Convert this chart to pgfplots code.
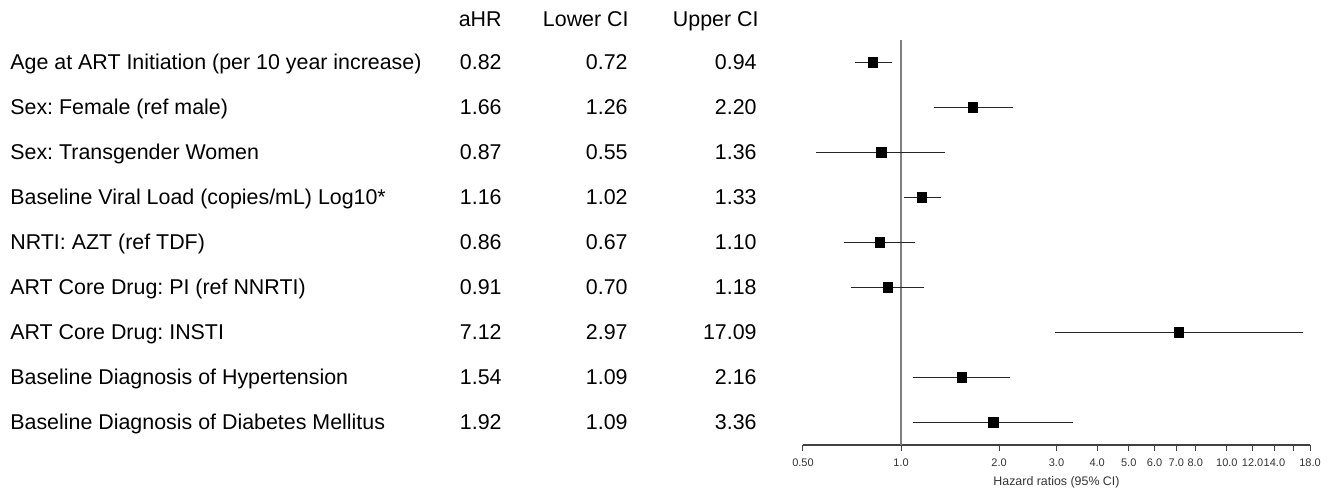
\documentclass[border=0pt]{standalone}
\usepackage{fontspec}
\setmainfont{Liberation Sans}
\usepackage{pgfplots}
\usepackage{pgfplotstable}
\pgfplotsset{compat=1.18}

\pgfplotstableread{
row hr lo hi
9 0.82 0.72 0.94
8 1.66 1.26 2.20
7 0.87 0.55 1.36
6 1.16 1.02 1.33
5 0.86 0.67 1.10
4 0.91 0.70 1.18
3 7.12 2.97 17.09
2 1.54 1.09 2.16
1 1.92 1.09 3.36
}\hrdata

\newcommand{\rowtext}[5]{%
  \node[anchor=mid west, inner sep=0pt] at ([xshift=-396.5pt,yshift=-0.8pt]axis cs:0.5,#1) {#2};
  \node[anchor=mid east, inner sep=0pt] at ([xshift=-150.5pt,yshift=-0.8pt]axis cs:0.5,#1) {#3};
  \node[anchor=mid east, inner sep=0pt] at ([xshift=-87.5pt,yshift=-0.8pt]axis cs:0.5,#1) {#4};
  \node[anchor=mid east, inner sep=0pt] at ([xshift=-23pt,yshift=-0.8pt]axis cs:0.5,#1) {#5};
}

\begin{document}
\frenchspacing
\begin{tikzpicture}
\fontsize{10.7}{12}\selectfont
\begin{axis}[
    scale only axis,
    width=253.5pt,
    height=202.5pt,
    xmode=log,
    xmin=0.5, xmax=18,
    ymin=0.5, ymax=9.5,
    axis x line*=bottom,
    axis y line=none,
    axis line style={black!75, line width=0.6pt},
    xtick={0.5,1,2,3,4,5,6,7,8,10,12,14,16,18},
    xticklabels={0.50,1.0,2.0,3.0,4.0,5.0,6.0,7.0,8.0,10.0,12.0,14.0,,18.0},
    tick style={black!75, line width=0.5pt},
    major tick length=3pt,
    xtick pos=bottom,
    tick align=outside,
    ticklabel style={font=\fontsize{5.5}{6}\selectfont, text=black!80},
    xlabel={Hazard ratios (95\% CI)},
    xlabel style={font=\fontsize{6.2}{7}\selectfont, text=black!80, yshift=2pt},
    clip=false,
]
\addplot[gray, line width=0.6pt] coordinates {(1,0.5) (1,9.5)};
\addplot[black, only marks, mark=square*, mark size=2.3pt,
    error bars/.cd, x dir=both, x explicit, error mark=none,
    error bar style={black!85, line width=0.7pt}]
  table[x=hr, y=row,
        x error plus expr=\thisrow{hi}-\thisrow{hr},
        x error minus expr=\thisrow{hr}-\thisrow{lo}] {\hrdata};

\node[anchor=mid east, inner sep=0pt] at ([xshift=-150.5pt,yshift=-0.8pt]axis cs:0.5,9.96) {aHR};
\node[anchor=mid east, inner sep=0pt] at ([xshift=-87pt,yshift=-0.8pt]axis cs:0.5,9.96) {Lower CI};
\node[anchor=mid east, inner sep=0pt] at ([xshift=-22pt,yshift=-0.8pt]axis cs:0.5,9.96) {Upper CI};
\rowtext{9}{Age at ART Initiation (per 10 year increase)}{0.82}{0.72}{0.94}
\rowtext{8}{Sex: Female (ref male)}{1.66}{1.26}{2.20}
\rowtext{7}{Sex: Transgender Women}{0.87}{0.55}{1.36}
\rowtext{6}{Baseline Viral Load (copies/mL) Log10*}{1.16}{1.02}{1.33}
\rowtext{5}{NRTI: AZT (ref TDF)}{0.86}{0.67}{1.10}
\rowtext{4}{ART Core Drug: PI (ref NNRTI)}{0.91}{0.70}{1.18}
\rowtext{3}{ART Core Drug: INSTI}{7.12}{2.97}{17.09}
\rowtext{2}{Baseline Diagnosis of Hypertension}{1.54}{1.09}{2.16}
\rowtext{1}{Baseline Diagnosis of Diabetes Mellitus}{1.92}{1.09}{3.36}
\end{axis}
\path ([xshift=-401.5pt,yshift=-21.5pt]current axis.south west) rectangle ([xshift=13pt,yshift=20pt]current axis.north east);
\end{tikzpicture}
\end{document}
